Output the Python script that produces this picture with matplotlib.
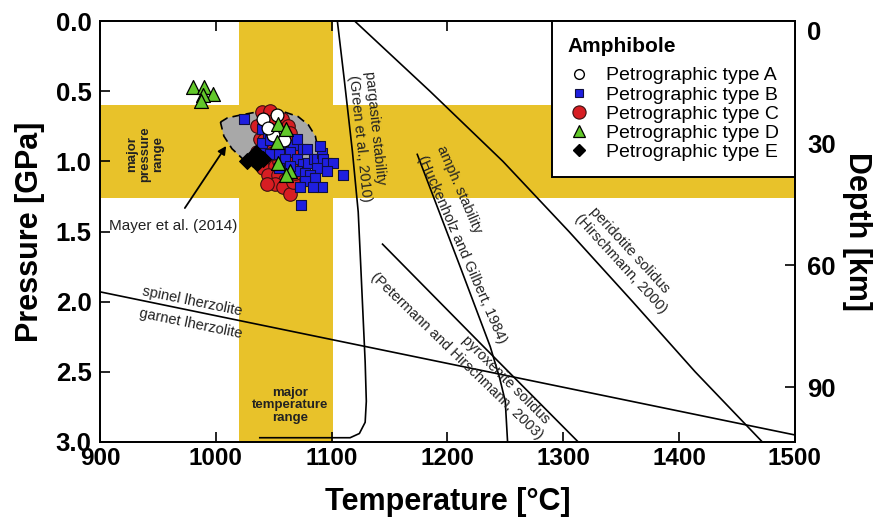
import matplotlib
matplotlib.use("Agg")
import matplotlib.pyplot as plt
from matplotlib.lines import Line2D

plt.rcParams['font.family'] = ['Liberation Sans', 'DejaVu Sans']

# ---------------- datos (T en °C, P en GPa) ----------------
# Petrographic type A
tipoA_T = [1041, 1053, 1049, 1059, 1045]
tipoA_P = [0.70, 0.67, 0.81, 0.85, 0.76]

# Petrographic type B
tipoB_T = [1024, 1040, 1045, 1040, 1047, 1057, 1067, 1070, 1075, 1079,
           1038, 1047, 1055, 1064, 1060, 1070, 1075, 1080, 1085, 1087,
           1092, 1093, 1096, 1101, 1087, 1096, 1070, 1077, 1081, 1086,
           1092, 1077, 1084, 1073, 1110, 1074, 1064, 1055, 1090]
tipoB_P = [0.70, 0.77, 0.80, 0.87, 0.85, 0.89, 0.88, 0.84, 0.91, 0.91,
           0.94, 0.95, 0.95, 0.93, 0.98, 0.98, 1.02, 1.01, 0.98, 0.98,
           0.94, 0.98, 1.01, 1.01, 1.05, 1.07, 1.07, 1.08, 1.10, 1.12,
           1.18, 1.14, 1.18, 1.18, 1.10, 1.31, 1.03, 1.05, 0.89]

# Petrographic type C
tipoC_T = [1040, 1047, 1036, 1043, 1057, 1062, 1038, 1045, 1040, 1047,
           1041, 1051, 1045, 1054, 1060, 1051, 1058, 1064, 1044, 1067,
           1055, 1060, 1064, 1054, 1049, 1042, 1062, 1068, 1036, 1049,
           1064, 1069, 1066]
tipoC_P = [0.65, 0.64, 0.75, 0.75, 0.70, 0.75, 0.84, 0.89, 0.96, 1.00,
           1.05, 1.03, 1.10, 1.10, 1.13, 1.16, 1.18, 1.23, 1.16, 1.15,
           1.00, 0.93, 0.85, 0.93, 0.94, 0.85, 1.03, 1.08, 0.93, 0.71,
           0.80, 0.93, 1.00]

# Petrographic type D
tipoD_T = [980, 990, 998, 989, 987, 1054, 1061, 1053, 1054, 1064, 1061]
tipoD_P = [0.47, 0.47, 0.52, 0.53, 0.57, 0.73, 0.77, 0.86, 1.01, 1.07, 1.10]

# Petrographic type E
tipoE_T = [1027, 1032, 1036, 1035, 1041]
tipoE_P = [1.00, 0.98, 1.01, 0.94, 0.98]

# campo de Mayer et al. (2014)
mayer_T = [1004, 1010, 1021, 1034, 1047, 1060, 1071, 1080, 1086, 1088,
           1089, 1086, 1077, 1064, 1047, 1034, 1023, 1014, 1007]
mayer_P = [0.72, 0.69, 0.67, 0.65, 0.63, 0.65, 0.68, 0.74, 0.82, 0.90,
           0.98, 1.05, 1.08, 1.08, 1.07, 1.04, 0.98, 0.91, 0.82]

# curvas
pargasita_T = [1105, 1111, 1118, 1123, 1125, 1127, 1129, 1130, 1129, 1124, 1116, 1038]
pargasita_P = [0.00, 0.42, 0.93, 1.36, 1.71, 2.07, 2.43, 2.71, 2.86, 2.94, 2.97, 2.97]

anfibol_T = [1174, 1211, 1237, 1245, 1250, 1252]
anfibol_P = [0.95, 1.75, 2.32, 2.54, 2.71, 3.00]

piroxenita_T = [1144, 1230, 1313]
piroxenita_P = [1.59, 2.31, 3.00]

peridotita_T = [1120, 1185, 1248, 1305, 1360, 1414, 1472]
peridotita_P = [0.0, 0.5, 1.0, 1.5, 2.0, 2.5, 3.0]

espinela_T = [900, 1500]
espinela_P = [1.93, 2.95]

# rangos principales
rango_T = (1020, 1101)
rango_P = (0.60, 1.26)

# eje de profundidad
profundidad = [0, 30, 60, 90]
gpa_por_km = 0.029

amarillo = '#E8C22A'

fig = plt.figure(figsize=(8.85, 5.28), dpi=100)
ax = fig.add_axes([0.113, 0.163, 0.785, 0.797])

ax.axvspan(rango_T[0], rango_T[1], color=amarillo, lw=0, zorder=0)
ax.axhspan(rango_P[0], rango_P[1], color=amarillo, lw=0, zorder=0)

ax.fill(mayer_T, mayer_P, facecolor='#A8A8A8', edgecolor='black',
        lw=1.2, ls=(0, (5, 3)), zorder=1)

for tt, pp in [(pargasita_T, pargasita_P), (anfibol_T, anfibol_P),
               (piroxenita_T, piroxenita_P), (peridotita_T, peridotita_P),
               (espinela_T, espinela_P)]:
    ax.plot(tt, pp, color='black', lw=1.2, zorder=2)

ax.scatter(tipoC_T, tipoC_P, s=95, marker='o', c='#D71E23', edgecolors='#3a1010', linewidths=0.8, zorder=3)
ax.scatter(tipoB_T, tipoB_P, s=48, marker='s', c='#1F1FE0', edgecolors='#101040', linewidths=0.8, zorder=4)
ax.scatter(tipoA_T, tipoA_P, s=85, marker='o', c='white', edgecolors='black', linewidths=0.9, zorder=5)
ax.scatter(tipoD_T, tipoD_P, s=100, marker='^', c='#62C82A', edgecolors='black', linewidths=0.9, zorder=6)
ax.scatter(tipoE_T, tipoE_P, s=65, marker='D', c='black', edgecolors='black', linewidths=0.8, zorder=7)

# textos
ax.text(939, 0.95, 'major\npressure\nrange', rotation=90, ha='center', va='center',
        fontsize=9.5, fontweight='bold', color='#222222', linespacing=1.1)
ax.text(1064, 2.74, 'major\ntemperature\nrange', ha='center', va='center',
        fontsize=9.5, fontweight='bold', color='#222222', linespacing=1.1)

ax.text(980, 2.00, 'spinel lherzolite', rotation=-11.6, ha='center', va='center', fontsize=10.5, color='#222222')
ax.text(978, 2.155, 'garnet lherzolite', rotation=-11.6, ha='center', va='center', fontsize=10.5, color='#222222')

ax.text(1137, 0.76, 'pargasite stability', rotation=-84, ha='center', va='center', fontsize=10.5, color='#222222')
ax.text(1124, 0.84, '(Green et al., 2010)', rotation=-84, ha='center', va='center', fontsize=10.5, color='#222222')

ax.text(1210, 1.20, 'amph. stability', rotation=-66.5, ha='center', va='center', fontsize=10.5, color='#222222')
ax.text(1213, 1.63, '(Huckenholz and Gilbert, 1984)', rotation=-66.5, ha='center', va='center', fontsize=10.5, color='#222222')

ax.text(1250, 2.56, 'pyroxenite solidus', rotation=-45, ha='center', va='center', fontsize=10.5, color='#222222')
ax.text(1208, 2.39, '(Petermann and Hirschmann, 2003)', rotation=-44, ha='center', va='center', fontsize=10.5, color='#222222')

ax.text(1357, 1.63, 'peridotite solidus', rotation=-47.5, ha='center', va='center', fontsize=10.5, color='#222222')
ax.text(1350, 1.73, '(Hirschmann, 2000)', rotation=-47.5, ha='center', va='center', fontsize=10.5, color='#222222')

ax.annotate('Mayer et al. (2014)', xy=(1009, 0.89), xytext=(963, 1.46),
            ha='center', va='center', fontsize=11, color='#222222',
            arrowprops=dict(arrowstyle='-|>', color='black', lw=1.3,
                            mutation_scale=12, shrinkA=7, shrinkB=0))

# ejes
ax.set_xlim(900, 1500)
ax.set_ylim(3.0, 0.0)
ax.set_xticks(range(900, 1501, 100))
ax.set_yticks([0.0, 0.5, 1.0, 1.5, 2.0, 2.5, 3.0])
ax.set_yticklabels(['0.0', '0.5', '1.0', '1.5', '2.0', '2.5', '3.0'])
ax.tick_params(direction='in', length=7, width=1.2, top=True, right=False)
ax.tick_params(axis='x', pad=4, labelsize=17.5)
ax.tick_params(axis='y', pad=6, labelsize=18.5)
for lab in ax.get_xticklabels() + ax.get_yticklabels():
    lab.set_fontweight('bold')
for sp in ax.spines.values():
    sp.set_linewidth(1.3)

ax.set_xlabel('Temperature [°C]', fontsize=22, fontweight='bold', labelpad=12)
ax.set_ylabel('Pressure [GPa]', fontsize=22, fontweight='bold', labelpad=8)

ax2 = ax.twinx()
ax2.set_ylim(3.0, 0.0)
ax2.set_yticks([d * gpa_por_km for d in profundidad])
ax2.set_yticklabels([str(d) for d in profundidad])
ax2.tick_params(direction='in', length=7, width=1.2, labelsize=18.5, pad=9)
for lab in ax2.get_yticklabels():
    lab.set_fontweight('bold')
ax2.get_yticklabels()[0].set_va('top')
ax2.set_ylabel('Depth [km]', fontsize=22, fontweight='bold', rotation=270, labelpad=26)
for sp in ax2.spines.values():
    sp.set_linewidth(1.3)

# leyenda
handles = [
    Line2D([], [], ls='none', marker='o', ms=7, mfc='white', mec='black', mew=1.0),
    Line2D([], [], ls='none', marker='s', ms=6, mfc='#1F1FE0', mec='#101040', mew=0.8),
    Line2D([], [], ls='none', marker='o', ms=9.5, mfc='#D71E23', mec='#3a1010', mew=0.8),
    Line2D([], [], ls='none', marker='^', ms=9, mfc='#62C82A', mec='black', mew=0.9),
    Line2D([], [], ls='none', marker='D', ms=6.5, mfc='black', mec='black'),
]
labels = ['Petrographic type A', 'Petrographic type B', 'Petrographic type C',
          'Petrographic type D', 'Petrographic type E']
leg = ax2.legend(handles, labels, title='Amphibole', loc='upper right',
                 bbox_to_anchor=(1.0, 1.0), borderaxespad=0.0, fontsize=14,
                 title_fontproperties={'weight': 'bold', 'size': 15},
                 alignment='left', fancybox=False, framealpha=1,
                 edgecolor='black', labelspacing=0.08, handletextpad=0.8,
                 handlelength=1.2, borderpad=0.8)
leg.get_frame().set_linewidth(1.4)
leg._legend_box.sep = 8

fig.savefig('out.png', dpi=100)
